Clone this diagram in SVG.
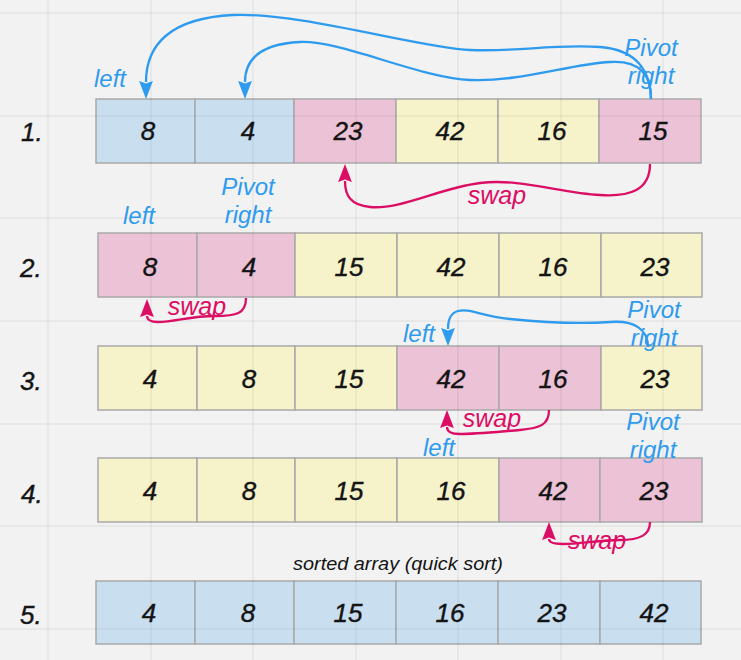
<svg xmlns="http://www.w3.org/2000/svg" width="741" height="660" viewBox="0 0 741 660">
<defs>
<style>
.bg{fill:#f2f2f2}
.grid line{stroke:#000;stroke-opacity:0.055;stroke-width:1.5}
.b{fill:#c9dff0;stroke:#a9a9a9;stroke-width:1.5}
.p{fill:#ecc2d6;stroke:#a9a9a9;stroke-width:1.5}
.y{fill:#f6f3ca;stroke:#a9a9a9;stroke-width:1.5}
.n{font-family:"Liberation Sans",Arial,sans-serif;font-style:italic;font-size:26px;fill:#141414;text-anchor:middle;stroke:#141414;stroke-width:0.4}
.rl{font-family:"Liberation Sans",Arial,sans-serif;font-style:italic;font-size:26px;fill:#141414;stroke:#141414;stroke-width:0.4}
.lb{font-family:"Liberation Sans",Arial,sans-serif;font-style:italic;font-size:24px;fill:#2f9bee;text-anchor:middle}
.sw{font-family:"Liberation Sans",Arial,sans-serif;font-style:italic;font-size:25px;fill:#dc0d64;text-anchor:middle}
.cap{font-family:"Liberation Sans",Arial,sans-serif;font-style:italic;font-size:18px;fill:#141414;text-anchor:middle}
.cb{fill:none;stroke:#2f9bee;stroke-width:2.3;marker-end:url(#ab)}
.cp{fill:none;stroke:#dc0d64;stroke-width:2.3;marker-end:url(#ap)}
</style>
<marker id="ab" markerUnits="userSpaceOnUse" markerWidth="18" markerHeight="14" viewBox="0 0 17 13" refX="1" refY="6.5" orient="auto"><path d="M0,0 L17,6.5 L0,13 L2.5,6.5 Z" fill="#2f9bee"/></marker>
<marker id="ap" markerUnits="userSpaceOnUse" markerWidth="18" markerHeight="14" viewBox="0 0 17 13" refX="1" refY="6.5" orient="auto"><path d="M0,0 L17,6.5 L0,13 L2.5,6.5 Z" fill="#dc0d64"/></marker>
</defs>
<rect class="bg" x="0" y="0" width="741" height="660"/>

<g id="row1">
<g id="r1c1"><rect class="b" x="96" y="99" width="99" height="64"/><text class="n" x="148" y="140">8</text></g>
<g id="r1c2"><rect class="b" x="195" y="99" width="99" height="64"/><text class="n" x="248" y="140">4</text></g>
<g id="r1c3"><rect class="p" x="294" y="99" width="102" height="64"/><text class="n" x="348" y="140">23</text></g>
<g id="r1c4"><rect class="y" x="396" y="99" width="102" height="64"/><text class="n" x="450" y="140">42</text></g>
<g id="r1c5"><rect class="y" x="498" y="99" width="101" height="64"/><text class="n" x="552" y="140">16</text></g>
<g id="r1c6"><rect class="p" x="599" y="99" width="102" height="64"/><text class="n" x="653" y="140">15</text></g>
</g>

<g id="row2">
<g id="r2c1"><rect class="p" x="98" y="233" width="99" height="64"/><text class="n" x="150" y="276">8</text></g>
<g id="r2c2"><rect class="p" x="197" y="233" width="98" height="64"/><text class="n" x="249" y="276">4</text></g>
<g id="r2c3"><rect class="y" x="295" y="233" width="102" height="64"/><text class="n" x="349" y="276">15</text></g>
<g id="r2c4"><rect class="y" x="397" y="233" width="102" height="64"/><text class="n" x="451" y="276">42</text></g>
<g id="r2c5"><rect class="y" x="499" y="233" width="102" height="64"/><text class="n" x="553" y="276">16</text></g>
<g id="r2c6"><rect class="y" x="601" y="233" width="101" height="64"/><text class="n" x="655" y="276">23</text></g>
</g>

<g id="row3">
<g id="r3c1"><rect class="y" x="98" y="346" width="99" height="64"/><text class="n" x="150" y="388">4</text></g>
<g id="r3c2"><rect class="y" x="197" y="346" width="98" height="64"/><text class="n" x="249" y="388">8</text></g>
<g id="r3c3"><rect class="y" x="295" y="346" width="102" height="64"/><text class="n" x="349" y="388">15</text></g>
<g id="r3c4"><rect class="p" x="397" y="346" width="102" height="64"/><text class="n" x="451" y="388">42</text></g>
<g id="r3c5"><rect class="p" x="499" y="346" width="102" height="64"/><text class="n" x="553" y="388">16</text></g>
<g id="r3c6"><rect class="y" x="601" y="346" width="101" height="64"/><text class="n" x="655" y="388">23</text></g>
</g>

<g id="row4">
<g id="r4c1"><rect class="y" x="98" y="458" width="99" height="64"/><text class="n" x="150" y="500">4</text></g>
<g id="r4c2"><rect class="y" x="197" y="458" width="98" height="64"/><text class="n" x="249" y="500">8</text></g>
<g id="r4c3"><rect class="y" x="295" y="458" width="102" height="64"/><text class="n" x="349" y="500">15</text></g>
<g id="r4c4"><rect class="y" x="397" y="458" width="102" height="64"/><text class="n" x="451" y="500">16</text></g>
<g id="r4c5"><rect class="p" x="499" y="458" width="101" height="64"/><text class="n" x="553" y="500">42</text></g>
<g id="r4c6"><rect class="p" x="600" y="458" width="102" height="64"/><text class="n" x="654" y="500">23</text></g>
</g>

<g id="row5">
<g id="r5c1"><rect class="b" x="96" y="581" width="99" height="63"/><text class="n" x="149" y="622">4</text></g>
<g id="r5c2"><rect class="b" x="195" y="581" width="99" height="63"/><text class="n" x="248" y="622">8</text></g>
<g id="r5c3"><rect class="b" x="294" y="581" width="102" height="63"/><text class="n" x="348" y="622">15</text></g>
<g id="r5c4"><rect class="b" x="396" y="581" width="102" height="63"/><text class="n" x="450" y="622">16</text></g>
<g id="r5c5"><rect class="b" x="498" y="581" width="102" height="63"/><text class="n" x="552" y="622">23</text></g>
<g id="r5c6"><rect class="b" x="600" y="581" width="101" height="63"/><text class="n" x="654" y="622">42</text></g>
</g>

<g class="grid">
<line x1="48" y1="0" x2="48" y2="660"/>
<line x1="151" y1="0" x2="151" y2="660"/>
<line x1="253" y1="0" x2="253" y2="660"/>
<line x1="356" y1="0" x2="356" y2="660"/>
<line x1="458" y1="0" x2="458" y2="660"/>
<line x1="561" y1="0" x2="561" y2="660"/>
<line x1="663" y1="0" x2="663" y2="660"/>
<line x1="0" y1="13" x2="741" y2="13"/>
<line x1="0" y1="116" x2="741" y2="116"/>
<line x1="0" y1="218" x2="741" y2="218"/>
<line x1="0" y1="321" x2="741" y2="321"/>
<line x1="0" y1="424" x2="741" y2="424"/>
<line x1="0" y1="526" x2="741" y2="526"/>
<line x1="0" y1="629" x2="741" y2="629"/>
</g>

<g id="rowLabels">
<text class="rl" x="21" y="141">1.</text>
<text class="rl" x="20" y="277">2.</text>
<text class="rl" x="20" y="390">3.</text>
<text class="rl" x="21" y="503">4.</text>
<text class="rl" x="20" y="624">5.</text>
</g>

<g id="labels">
<text class="lb" x="110" y="87">left</text>
<text class="lb" x="651" y="56">Pivot</text>
<text class="lb" x="651" y="84">right</text>
<text class="lb" x="139" y="224">left</text>
<text class="lb" x="248" y="195">Pivot</text>
<text class="lb" x="248" y="223">right</text>
<text class="lb" x="419" y="342">left</text>
<text class="lb" x="654" y="318">Pivot</text>
<text class="lb" x="654" y="346">right</text>
<text class="lb" x="439" y="456">left</text>
<text class="lb" x="653" y="430">Pivot</text>
<text class="lb" x="653" y="458">right</text>
<text class="sw" x="497" y="204">swap</text>
<text class="sw" x="197" y="315">swap</text>
<text class="sw" x="492" y="427">swap</text>
<text class="sw" x="597" y="549">swap</text>
<text class="cap" x="398" y="570" textLength="210" lengthAdjust="spacingAndGlyphs">sorted array (quick sort)</text>
</g>

<g id="connectors">
<path class="cb" d="M651,99 C651,75 640,50 600,47 C550,44 520,52 470,50 C420,48 300,12 233,15 C170,18 146,45 146,82"/>
<path class="cb" d="M651,99 C651,75 640,60 610,62 C570,64 520,82 470,80 C420,78 340,40 300,42 C260,44 245,60 245,82"/>
<path class="cp" d="M650,164 C650,190 630,197 600,195 C560,193 520,178 480,183 C440,188 400,210 370,207 C350,205 345,195 345,181"/>
<path class="cp" d="M246,298 C246,314 236,316 215,316 C190,316 175,322 158,322 C150,322 147,320 147,316"/>
<path class="cb" d="M648,347 C648,330 635,320 610,322 C580,324 540,322 510,319 C480,316 470,308 458,311 C450,313 448,320 448,329"/>
<path class="cp" d="M549,410 C549,425 540,428 520,430 C495,432 475,434 460,434 C450,434 447,431 447,427"/>
<path class="cp" d="M650,522 C650,535 640,540 620,540 C600,540 580,544 563,544 C552,544 549,542 549,539"/>
</g>
</svg>
